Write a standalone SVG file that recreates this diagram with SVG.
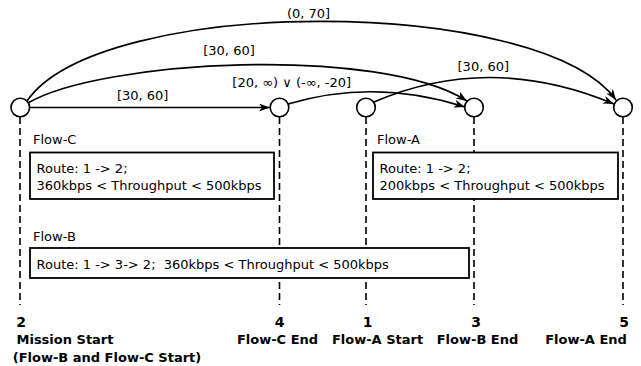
<svg xmlns="http://www.w3.org/2000/svg" width="641" height="366" viewBox="0 0 641 366">
<defs>
<style>
.t{font-family:"DejaVu Sans",sans-serif;font-size:13px;fill:#000}
.b{font-family:"DejaVu Sans",sans-serif;font-size:13px;font-weight:bold;fill:#000}
.n{font-family:"DejaVu Sans",sans-serif;font-size:14px;font-weight:bold;fill:#000}
.node{fill:#fff;stroke:#000;stroke-width:1.6}
.dash{stroke:#000;stroke-width:1.6;stroke-dasharray:7,4;fill:none}
.box{fill:#fff;stroke:#000;stroke-width:1.8}
.edge{fill:none;stroke:#000;stroke-width:1.6;marker-end:url(#arr)}
</style>
<marker id="arr" markerUnits="userSpaceOnUse" markerWidth="12" markerHeight="10" refX="11" refY="4" orient="auto">
<path d="M0,0 L11,4 L0,8 L3,4 z" fill="#000"/>
</marker>
</defs>
<g id="timelines">
<line class="dash" x1="20" y1="117" x2="20" y2="305"/>
<line class="dash" x1="279.5" y1="117" x2="279.5" y2="305"/>
<line class="dash" x1="366" y1="117" x2="366" y2="305"/>
<line class="dash" x1="474" y1="117" x2="474" y2="305"/>
<line class="dash" x1="623" y1="117" x2="623" y2="305"/>
</g>
<g id="connectors">
<path class="edge" d="M30,107.5 L270,107.5"/>
<path class="edge" d="M28,103 C100,60 380,45 467,101"/>
<path class="edge" d="M27,101 C100,-5 540,-5 616,100"/>
<path class="edge" d="M288,104 Q375,78 465,107"/>
<path class="edge" d="M374,102 Q490,52 614,104"/>
<text class="t" x="142.7" y="100" text-anchor="middle">[30, 60]</text>
<text class="t" x="229" y="54.5" text-anchor="middle">[30, 60]</text>
<text class="t" x="308.5" y="17.5" text-anchor="middle">(0, 70]</text>
<text class="t" x="291.7" y="87" text-anchor="middle">[20, ∞) ∨ (-∞, -20]</text>
<text class="t" x="483.3" y="70.5" text-anchor="middle">[30, 60]</text>
</g>
<g id="node2"><circle class="node" cx="20.3" cy="107.5" r="9.3"/>
<text class="n" x="21" y="327" text-anchor="middle">2</text>
<text class="b" x="65" y="344" text-anchor="middle">Mission Start</text>
<text class="b" x="107" y="362" text-anchor="middle">(Flow-B and Flow-C Start)</text></g>
<g id="node4"><circle class="node" cx="279.5" cy="107.5" r="9.3"/>
<text class="n" x="279.5" y="327" text-anchor="middle">4</text>
<text class="b" x="277.5" y="344" text-anchor="middle">Flow-C End</text></g>
<g id="node1"><circle class="node" cx="366" cy="107.5" r="9.3"/>
<text class="n" x="367.5" y="327" text-anchor="middle">1</text>
<text class="b" x="377.5" y="344" text-anchor="middle">Flow-A Start</text></g>
<g id="node3"><circle class="node" cx="474" cy="107.5" r="9.3"/>
<text class="n" x="476" y="327" text-anchor="middle">3</text>
<text class="b" x="477.5" y="344" text-anchor="middle">Flow-B End</text></g>
<g id="node5"><circle class="node" cx="623" cy="107.5" r="9.3"/>
<text class="n" x="624" y="327" text-anchor="middle">5</text>
<text class="b" x="586" y="344" text-anchor="middle">Flow-A End</text></g>
<g id="flowC">
<text class="t" x="33" y="144.3">Flow-C</text>
<rect class="box" x="30" y="152.5" width="244" height="46.5"/>
<text class="t" x="36.5" y="172.5">Route: 1 -&gt; 2;</text>
<text class="t" x="36.5" y="189.5">360kbps &lt; Throughput &lt; 500kbps</text>
</g>
<g id="flowA">
<text class="t" x="377" y="144.3">Flow-A</text>
<rect class="box" x="373" y="152.5" width="245" height="46.5"/>
<text class="t" x="379.5" y="172.5">Route: 1 -&gt; 2;</text>
<text class="t" x="379.5" y="189.5">200kbps &lt; Throughput &lt; 500kbps</text>
</g>
<g id="flowB">
<text class="t" x="33" y="241">Flow-B</text>
<rect class="box" x="30" y="248" width="439" height="30"/>
<text class="t" x="36.5" y="268.5" xml:space="preserve">Route: 1 -&gt; 3-&gt; 2;  360kbps &lt; Throughput &lt; 500kbps</text>
</g>
</svg>
